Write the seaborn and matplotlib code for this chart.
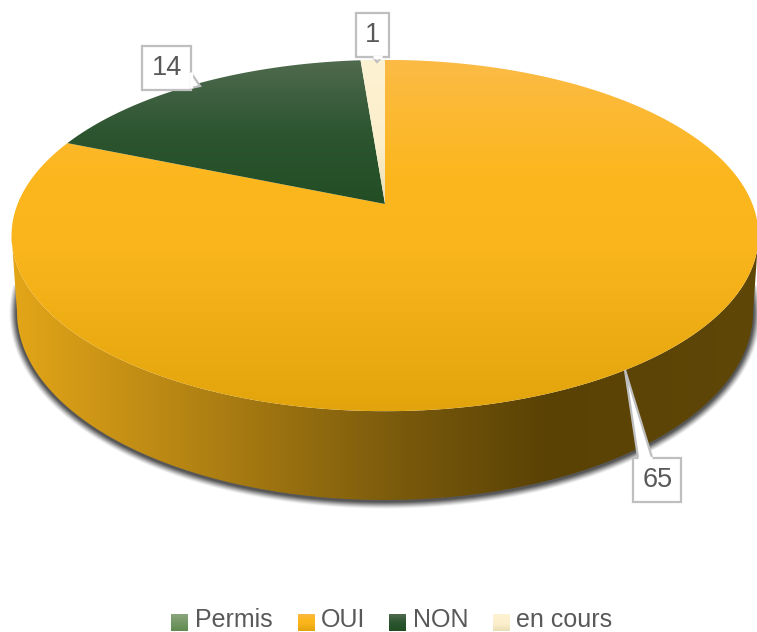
import numpy as np
import matplotlib
matplotlib.use("Agg")
import matplotlib.pyplot as plt
import seaborn as sns
from matplotlib.colors import LinearSegmentedColormap as LSC
from matplotlib.patches import Polygon, Rectangle

sns.set_theme(style="white")
plt.rcParams['font.family'] = ['Liberation Sans', 'DejaVu Sans']

categories = ["Permis", "OUI", "NON", "en cours"]
values = [0, 65, 14, 1]
label_values = ["65", "14", "1"]

TEXT = "#595959"
EDGE = "#bfbfbf"
top_grads = {
    "Permis": [(0, "#8aa57c"), (1, "#5f8a4f")],
    "OUI": [(0, "#fbbb45"), (0.33, "#fdb71e"), (0.55, "#fab51c"), (1, "#e2a40c")],
    "NON": [(0, "#506a4e"), (0.5, "#2c5530"), (1, "#234e24")],
    "en cours": [(0, "#fdf2d2"), (0.6, "#fbeecb"), (1, "#e9deb4")],
}
wall_grad = [(0, "#e4a618"), (0.3, "#a87b12"), (0.52, "#7a5a0c"), (0.72, "#5a4205"), (1, "#5f4708")]

fig = plt.figure(figsize=(7.57, 6.32), dpi=100, facecolor="white")
ax = fig.add_axes([0, 0, 1, 1])
wedges, _ = ax.pie(values, startangle=90, counterclock=False)
angles = [(w.theta1, w.theta2) for w in wedges]
for w in wedges:
    w.remove()
ax.set_aspect("auto")
ax.axis("off")

# perspective of the tilted disc
B = 0.1795
def project(t, cx=385.0, cy=204.0, rx=367.4, ry=170.0):
    x, y = np.cos(np.radians(t)), np.sin(np.radians(t))
    d = 1 + B * y
    return cx + rx * x / d, cy - ry * y / d

def rim(t1, t2):
    t = np.linspace(t1, t2, 400)
    return np.column_stack(project(t))

def low_rim(t1, t2):
    t = np.radians(np.linspace(t1, t2, 400))
    return np.column_stack([385 + 368 * np.cos(t), 312 - 188 * np.sin(t)])

def grad(colors, extent, horizontal, clip):
    cmap = LSC.from_list("g", colors)
    arr = np.linspace(0, 1, 256)
    arr = arr[None, :] if horizontal else arr[:, None]
    im = ax.imshow(arr, cmap=cmap, extent=extent, origin="upper", aspect="auto",
                   interpolation="bilinear", zorder=clip.get_zorder())
    ax.add_patch(clip)
    im.set_clip_path(clip)
    return im

# soft shadow beneath the wall
shadow = low_rim(172, 368)
for lw, a in zip([15, 13, 11, 9, 7, 5, 3], [0.07, 0.10, 0.14, 0.18, 0.22, 0.28, 0.34]):
    ax.plot(shadow[:, 0], shadow[:, 1] + 1, color="#2a2a2a", lw=lw * 0.72,
            alpha=a, zorder=1, solid_capstyle="butt")

# side wall
t_rim = rim(190.3, 349.7)
b_rim = low_rim(180, 360)
wall_pts = np.vstack([t_rim, b_rim[::-1]])
wall = Polygon(wall_pts, closed=True, fc="none", ec="none", zorder=2)
grad(wall_grad, (10, 757, 510, 230), True, wall)

# top faces
for name, (t1, t2), v in zip(categories, angles, values):
    if v == 0:
        continue
    pts = np.vstack([[[385.0, 204.0]], rim(t1, t2)])
    poly = Polygon(pts, closed=True, fc="none", ec="none", zorder=3)
    if name == "OUI":
        grad(top_grads[name], (0, 757, 411, 60), False, poly)
    else:
        grad(top_grads[name], (0, 757, 204, 60), False, poly)

# callouts
def callout(text, x0, y0, x1, y1, base, tip):
    rect = Rectangle((x0, y0), x1 - x0, y1 - y0, fc="white", ec=EDGE, lw=1.6, zorder=6)
    ax.add_patch(rect)
    ptr = Polygon([base[0], tip, base[1]], closed=False, fc="white", ec=EDGE, lw=1.6,
                  zorder=6, joinstyle="miter")
    ax.add_patch(ptr)
    ax.plot([base[0][0], base[1][0]], [base[0][1], base[1][1]], color="white", lw=2.4,
            zorder=7, solid_capstyle="butt")
    ax.text((x0 + x1) / 2 + 0.8, (y0 + y1) / 2 + 0.5, text, ha="center", va="center",
            fontsize=19.5, color=TEXT, zorder=8)

callout(label_values[0], 632.5, 457.5, 680.5, 502, [(638, 457.5), (652, 457.5)], (625, 370))
callout(label_values[1], 142, 45.5, 190.5, 89.5, [(190.5, 72), (190.5, 88)], (200, 86))
callout(label_values[2], 355.5, 12.5, 388.5, 57, [(373, 57), (382, 57)], (377, 62))

# legend
swatch_x = [171, 298, 389, 493]
text_x = [195, 321, 413, 516]
for name, sx, tx in zip(categories, swatch_x, text_x):
    sq = Rectangle((sx, 614), 17, 17, fc="none", ec="none", zorder=3)
    grad(top_grads[name], (sx, sx + 17, 631, 614), False, sq)
    ax.text(tx, 627, name, ha="left", va="baseline", fontsize=18, color=TEXT)

ax.set_xlim(0, 757)
ax.set_ylim(632, 0)
fig.savefig("out.png", dpi=100, facecolor="white")
